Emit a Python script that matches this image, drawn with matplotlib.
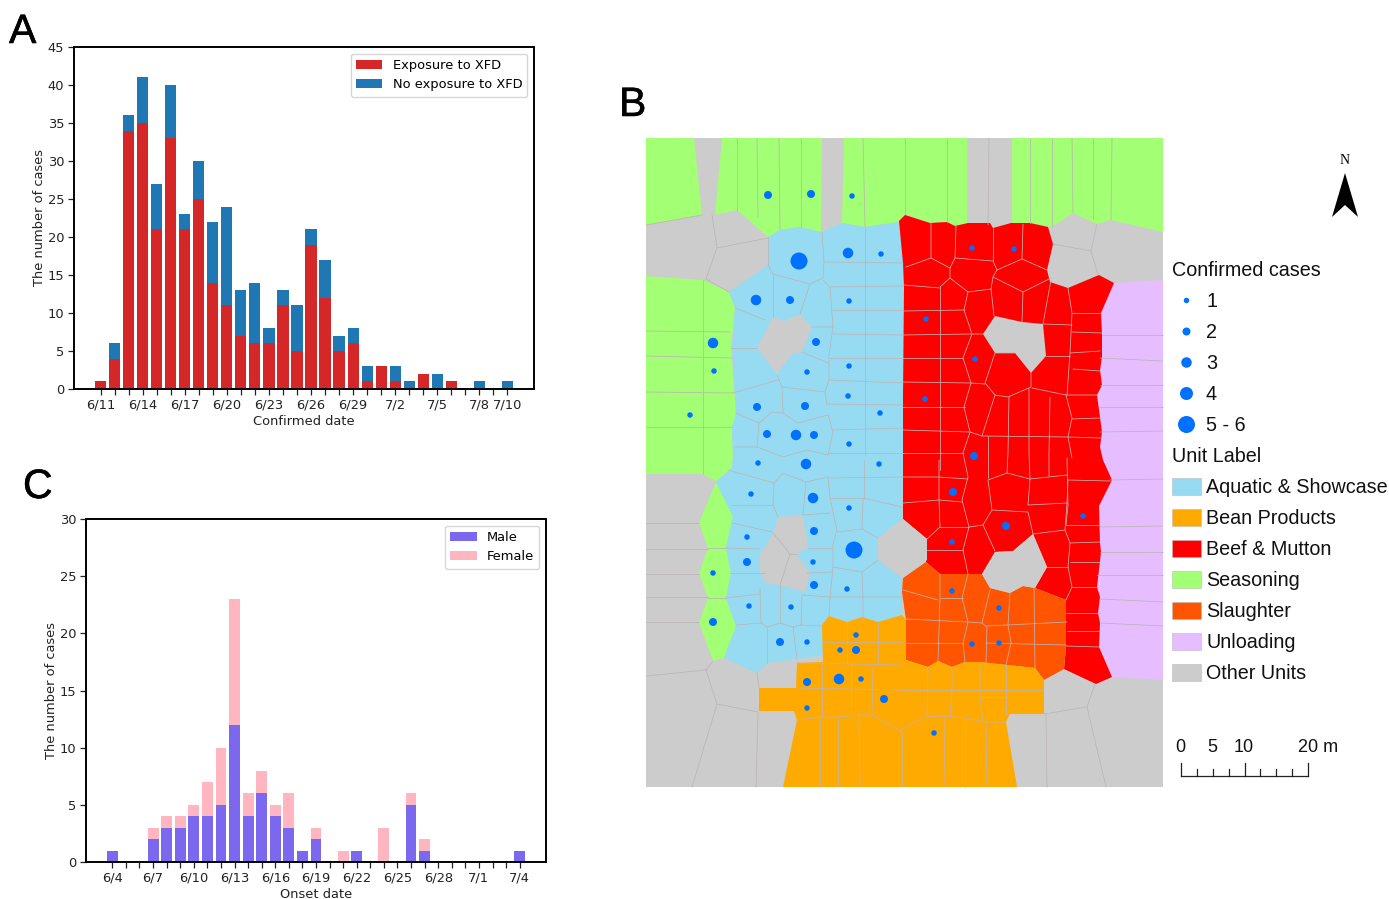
import matplotlib
matplotlib.use('Agg')
import matplotlib.pyplot as plt
import matplotlib.patheffects as pe
from matplotlib.patches import Polygon, Rectangle

W, H = 1389, 899

# panel A
dates_a = ['6/11','6/12','6/13','6/14','6/15','6/16','6/17','6/18','6/19','6/20','6/21','6/22','6/23','6/24','6/25',
           '6/26','6/27','6/28','6/29','6/30','7/1','7/2','7/3','7/4','7/5','7/6','7/7','7/8','7/9','7/10']
shown_a = ['6/11','6/14','6/17','6/20','6/23','6/26','6/29','7/2','7/5','7/8','7/10']
exposed = [1,4,34,35,21,33,21,25,14,11,7,6,6,11,5,19,12,5,6,1,3,1,0,2,0,1,0,0,0,0]
not_exposed = [0,2,2,6,6,7,2,5,8,13,6,8,2,2,6,2,5,2,2,2,0,2,1,0,2,0,0,1,0,1]

# panel C
dates_c = ['6/4','6/5','6/6','6/7','6/8','6/9','6/10','6/11','6/12','6/13','6/14','6/15','6/16','6/17','6/18','6/19',
           '6/20','6/21','6/22','6/23','6/24','6/25','6/26','6/27','6/28','6/29','6/30','7/1','7/2','7/3','7/4']
male = [1,0,0,2,3,3,4,4,5,12,4,6,4,3,1,2,0,0,1,0,0,0,5,1,0,0,0,0,0,0,1]
female = [0,0,0,1,1,1,1,3,5,11,2,2,1,3,0,1,0,1,0,0,3,0,1,1,0,0,0,0,0,0,0]

# panel B, traced in picture pixels
lilac = [(1114,283),(1163,280),(1163,680),(1112,677),(1090,640),(1090,300)]
green_parts = [
    [(646,138),(694,138),(702,215),(646,225)],
    [(722,138),(822,138),(821,232),(800,227),(780,230),(768,237),(737,210),(715,215)],
    [(844,138),(967,138),(967,223),(955,226),(947,222),(930,223),(905,214),(898,222),(865,227),(842,223)],
    [(1012,138),(1163,138),(1163,232),(1111,220),(1097,224),(1073,213),(1052,227),(1030,223),(1012,223)],
    [(646,276),(703,280),(729,292),(735,308),(731,347),(736,413),(732,427),(733,457),(732,468),(716,481),(702,474),(646,474)],
    [(716,482),(729,503),(733,517),(726,548),(731,573),(726,598),(736,626),(724,658),(713,661),(699,622),(708,598),
     (699,573),(708,548),(699,523)],
]
aquatic = [(768,237),(780,230),(800,227),(821,232),(842,223),(865,227),(898,222),(905,263),(904,287),(903,397),(903,460),
           (902,519),(878,538),(878,560),(902,578),(902,592),(902,615),(878,622),(862,617),(847,622),(829,616),(822,625),
           (824,655),(797,659),(768,663),(757,673),(724,658),(736,626),(726,598),(731,573),(726,548),(733,517),(716,482),
           (732,468),(733,457),(732,427),(736,413),(732,347),(735,308),(729,292),(768,265)]
beef = [(905,215),(930,223),(947,222),(955,226),(968,223),(990,223),(993,228),(1011,223),(1030,223),(1048,227),(1053,244),
        (1047,270),(1050,282),(1068,288),(1099,275),(1114,283),(1101,313),(1102,334),(1102,357),(1100,370),(1102,385),
        (1097,395),(1102,432),(1100,447),(1103,460),(1112,480),(1099,506),(1100,543),(1101,552),(1097,587),(1100,597),
        (1098,613),(1100,623),(1099,647),(1112,677),(1096,684),(1064,669),(1066,647),(1066,600),(1035,588),(1047,567),
        (1033,534),(1013,551),(995,552),(982,574),(968,574),(940,574),(926,562),(927,539),(903,519),(903,477),(903,397),
        (904,287),(903,263),(899,221)]
slaughter = [(926,562),(940,574),(982,574),(990,588),(1010,593),(1023,586),(1035,588),(1066,600),(1066,647),(1064,669),
             (1044,680),(1035,668),(1007,665),(980,662),(965,662),(952,667),(938,661),(928,667),(906,660),(906,620),
             (902,592),(903,578)]
bean = [(829,616),(847,622),(862,617),(878,622),(902,615),(906,620),(906,660),(928,667),(938,661),(952,667),(965,662),
        (980,662),(1007,665),(1035,668),(1044,680),(1044,714),(1010,714),(1006,722),(1017,787),(783,787),(797,720),
        (794,711),(759,711),(759,688),(796,688),(797,663),(823,662),(822,625)]
other_holes = [
    [(773,317),(784,321),(800,314),(812,327),(802,352),(792,354),(777,374),(757,348)],
    [(778,517),(803,515),(808,547),(797,554),(810,573),(805,592),(780,585),(771,584),(767,585),(760,572),(760,555),(773,533)],
    [(903,519),(927,539),(927,560),(903,578),(878,560),(878,538)],
    [(995,316),(1022,322),(1043,324),(1046,356),(1031,373),(1015,353),(995,353),(983,334)],
    [(1033,534),(1047,567),(1035,588),(1023,586),(1010,593),(990,588),(982,574),(995,552),(1013,551)],
]
cell_lines = [
    # top row
    [(737,138),(737,210)],[(757,138),(758,217)],[(779,138),(780,230)],[(801,138),(801,227)],[(863,138),(865,227)],
    [(905,138),(905,214)],[(947,138),(947,222)],[(989,138),(988,225)],[(1030,138),(1030,223)],[(1052,138),(1052,227)],
    [(1072,138),(1073,213)],[(1093,138),(1093,219)],[(1112,138),(1111,220)],
    # other units, corners
    [(712,215),(717,248),(768,238)],[(717,248),(706,279),(729,292)],[(646,225),(702,215)],[(768,237),(768,265)],
    [(1053,244),(1091,251)],[(1097,224),(1091,251),(1098,275)],
    [(646,676),(706,670),(713,661)],[(706,670),(717,704),(692,787)],[(717,704),(758,712),(756,787)],[(757,673),(759,688)],
    [(1044,714),(1087,707),(1095,684)],[(1087,707),(1106,787)],[(1046,715),(1047,787)],
    # seasoning and left side
    [(703,280),(703,474)],[(646,331),(730,332)],[(646,356),(732,358)],[(646,392),(733,393)],[(646,427),(732,427)],
    [(646,523),(699,523)],[(646,549),(708,549)],[(646,574),(699,574)],[(646,597),(708,597)],[(646,622),(699,622)],
    [(708,548),(726,548)],[(708,598),(726,598)],
    # aquatic
    [(822,232),(824,262),(823,278),(810,284),(773,274),(768,265)],[(773,274),(773,317)],[(810,284),(800,314)],
    [(823,280),(830,287),(833,327),(812,327)],[(824,262),(903,263)],[(865,227),(865,455)],[(830,287),(903,286)],
    [(833,310),(903,310)],[(833,327),(829,355),(829,380)],[(833,334),(903,335)],[(830,358),(903,358)],[(802,352),(828,363)],
    [(777,375),(782,387),(825,392)],[(829,380),(825,392),(827,405)],[(829,380),(903,383)],[(827,404),(903,405)],
    [(733,393),(778,380)],[(731,348),(757,348)],[(735,308),(765,320)],[(782,387),(783,413)],
    [(736,413),(759,423),(772,412),(783,413),(798,423),(828,415)],[(759,423),(757,447)],[(832,430),(903,428)],
    [(828,415),(833,432),(828,455)],[(828,453),(903,453)],[(735,447),(757,447),(783,457),(807,450),(828,455)],
    [(728,470),(774,483),(783,473),(806,482),(828,477)],[(774,483),(773,505),(778,517)],[(732,505),(773,505)],
    [(732,523),(772,532)],[(806,482),(803,515)],[(828,477),(830,498),(837,530),(832,548)],[(830,498),(863,498)],
    [(803,515),(830,513)],[(830,478),(903,477)],[(864,460),(864,498)],[(863,498),(902,507)],
    [(863,499),(862,529),(837,532)],[(862,529),(878,538)],[(832,548),(808,548)],[(833,548),(833,567),(862,572)],
    [(862,572),(878,560)],[(833,567),(830,597)],[(807,573),(832,572)],[(862,572),(863,598),(863,622)],
    [(802,595),(830,597),(902,597)],[(830,597),(829,616)],[(802,595),(801,625)],[(780,585),(780,623)],[(760,588),(761,623)],
    [(736,625),(761,623),(767,627),(780,623),(793,627),(801,625),(822,626)],[(767,627),(767,663)],[(793,627),(797,659)],
    [(730,573),(765,573)],[(726,598),(760,594)],[(726,548),(760,549)],[(773,533),(790,554),(780,585)],[(790,554),(797,554)],
    # bean
    [(822,642),(902,642)],[(847,622),(847,663)],[(878,622),(878,663)],[(797,663),(902,665)],[(822,663),(822,717)],
    [(851,665),(851,713)],[(873,668),(872,715)],[(797,688),(902,690)],
    [(797,720),(822,717),(840,717),(860,715),(872,715),(902,732)],[(820,718),(820,787)],[(838,717),(838,787)],
    [(859,715),(860,787)],[(902,732),(902,787)],[(900,730),(925,717),(945,716),(965,718),(985,722),(1006,722)],
    [(945,716),(944,787)],[(965,718),(965,787)],[(986,722),(987,787)],[(900,690),(1043,690)],[(928,667),(927,716)],
    [(952,667),(952,692),(950,716)],[(980,665),(980,697),(983,722)],[(1006,665),(1006,715)],[(980,697),(1006,697)],
    # slaughter
    [(903,590),(938,600)],[(940,574),(940,598),(938,661)],[(968,574),(962,598),(968,622),(963,643),(965,662)],
    [(940,598),(963,598)],[(990,590),(982,623),(987,627),(986,662)],[(1010,593),(1008,625),(1011,643),(1006,665)],
    [(1034,588),(1035,668)],[(906,619),(968,622),(982,623)],[(987,626),(1067,622)],[(906,643),(963,643)],[(986,643),(1066,645)],
    # beef
    [(931,223),(931,258),(906,267)],[(931,258),(950,268)],[(956,226),(955,258),(950,268),(950,278),(940,287)],
    [(955,258),(993,261),(997,270),(993,277),(991,289),(968,292)],[(993,228),(993,261)],[(1023,224),(1022,259),(997,270)],
    [(1022,259),(1047,270)],[(950,278),(968,292),(964,310),(972,334),(983,334)],[(993,277),(1023,292),(1051,278)],
    [(1023,292),(1022,322)],[(991,289),(994,316)],[(1051,280),(1043,324)],[(1068,288),(1072,313),(1070,353),(1067,395)],
    [(1043,324),(1072,325)],[(1072,313),(1101,313)],[(1072,332),(1102,333)],[(1070,353),(1100,351)],[(1046,356),(1070,356)],
    [(1073,369),(1100,371)],[(1031,373),(1031,387),(1008,397),(995,395)],[(1015,353),(995,353),(985,383),(995,395)],
    [(972,334),(963,358),(971,383),(985,384)],[(940,287),(940,470)],[(904,285),(940,288)],[(903,311),(965,310)],
    [(903,335),(971,334)],[(903,358),(963,358)],[(903,382),(971,383)],[(903,407),(965,407)],[(903,430),(970,432)],
    [(903,453),(963,453)],[(971,383),(964,407),(970,432),(963,453)],[(995,395),(982,436)],[(982,436),(1068,437)],
    [(970,432),(982,436)],[(1009,397),(1008,453),(1007,473)],[(1029,388),(1029,453),(1030,479)],
    [(1050,397),(1049,453),(1049,476)],[(1032,388),(1066,395),(1097,395)],
    [(1066,395),(1072,418),(1068,437),(1072,458)],[(1072,419),(1100,418)],[(1068,437),(1102,438)],
    [(903,477),(939,477),(968,479)],[(939,460),(939,500),(940,527)],[(963,453),(968,477),(962,500),(969,527),(963,550),(968,574)],
    [(903,503),(939,500),(962,502)],[(940,527),(927,539)],[(940,527),(969,527)],
    [(969,527),(983,525),(992,510),(988,480),(1007,473),(1030,479),(1028,505)],[(988,436),(988,478)],
    [(992,510),(1028,512),(1033,534)],[(983,525),(995,551)],[(1030,479),(1067,475)],[(1028,505),(1067,503),(1068,480)],
    [(1067,503),(1065,530),(1033,534)],[(1065,530),(1070,543),(1068,567),(1072,587)],[(1070,543),(1100,542)],
    [(1070,562),(1100,562)],[(1047,567),(1068,567)],[(1072,587),(1066,600)],[(1072,587),(1098,587)],[(1066,613),(1100,613)],
    [(1067,631),(1100,631)],[(1066,646),(1099,647)],[(1068,480),(1110,481)],[(1066,525),(1100,525)],[(1068,506),(1066,525)],
    [(927,550),(963,550)],[(1067,458),(1068,506)],
    # unloading
    [(1102,335),(1163,335)],[(1100,358),(1163,361)],[(1100,385),(1163,385)],[(1099,407),(1163,407)],[(1100,432),(1163,431)],
    [(1110,480),(1163,479)],[(1100,527),(1163,526)],[(1100,552),(1163,552)],[(1097,575),(1163,575)],[(1100,599),(1163,602)],
    [(1100,623),(1163,626)],
]
case_x = [768,811,852,799,848,881,756,790,849,713,714,816,807,849,848,690,757,805,880,767,796,814,849,758,806,879,751,813,
          849,814,747,854,747,813,713,814,847,749,791,713,780,807,856,840,856,807,839,861,884,807,934,953,1006,952,1083,952,
          999,972,999,972,1014,926,975,925,974]
case_y = [195,194,196,261,253,254,300,300,301,343,371,342,372,366,396,415,407,406,413,434,435,435,444,463,464,464,494,498,
          508,531,537,550,562,562,573,585,589,606,607,622,642,642,635,650,650,682,679,679,699,708,733,492,526,542,516,591,
          608,644,643,248,249,319,359,399,456]
case_n = [2,2,1,5,3,1,3,2,1,3,1,2,1,1,1,1,2,2,1,2,3,2,1,1,3,1,1,3,
          1,2,1,5,2,1,1,2,1,1,1,2,2,1,1,1,2,2,3,1,2,1,1,2,2,1,1,1,
          1,1,1,1,1,1,1,1,2]
dot_px = {1:5.5, 2:8, 3:10.5, 4:13, 5:17}
legend_cases = ['1','2','3','4','5 - 6']
legend_n = [1,2,3,4,5]
unit_names = ['Aquatic & Showcase','Bean Products','Beef & Mutton','Seasoning','Slaughter','Unloading','Other Units']
unit_colors = ['#97DBF2','#FFAA00','#FF0000','#A3FF73','#FF5500','#E6BEFF','#CCCCCC']
scale_labels = ['0','5','10','20 m']
line_col = '#BDB4B4'
dot_col = '#0070FF'

fig = plt.figure(figsize=(W/100, H/100), dpi=100)

def px_axes(x0, y0, x1, y1):
    return fig.add_axes([x0/W, 1-y1/H, (x1-x0)/W, (y1-y0)/H])

def style_chart(ax, ylab, xlab):
    for s in ax.spines.values():
        s.set_linewidth(1.4)
    ax.tick_params(labelsize=9.4, length=4.5, width=0.9, pad=2.5, colors='#222222')
    ax.set_ylabel(ylab, fontsize=9.4, labelpad=1, color='#222222')
    ax.set_xlabel(xlab, fontsize=9.4, labelpad=2.5, color='#222222')

# map canvas
bg = fig.add_axes([0, 0, 1, 1])
bg.set_xlim(0, W)
bg.set_ylim(H, 0)
bg.axis('off')
bg.add_patch(Rectangle((646,138), 517, 649, fc='#CCCCCC', ec='none', zorder=1))
bg.add_patch(Polygon(lilac, fc='#E6BEFF', ec='none', zorder=2))
for g in green_parts:
    bg.add_patch(Polygon(g, fc='#A3FF73', ec='none', zorder=2))
bg.add_patch(Polygon(aquatic, fc='#97DBF2', ec='none', zorder=3))
bg.add_patch(Polygon(beef, fc='#FF0000', ec='none', zorder=3))
bg.add_patch(Polygon(slaughter, fc='#FF5500', ec='none', zorder=4))
bg.add_patch(Polygon(bean, fc='#FFAA00', ec='none', zorder=4))
for o in other_holes:
    bg.add_patch(Polygon(o, fc='#CCCCCC', ec='none', zorder=5))
for c in cell_lines:
    bg.plot([p[0] for p in c], [p[1] for p in c], color=line_col, lw=0.55, zorder=6, solid_capstyle='round')
bg.scatter(case_x, case_y, s=[(dot_px[n]*0.72)**2 for n in case_n], c=dot_col, linewidths=0, zorder=7)

# map legend
font = 'Liberation Sans'
bg.text(1172, 276, 'Confirmed cases', fontsize=14.2, family=font, color='#111111')
y = 300
for lab, n in zip(legend_cases, legend_n):
    bg.scatter([1186], [y], s=(dot_px[n]*0.72)**2, c=dot_col, linewidths=0)
    bg.text(1206, y+7, lab, fontsize=14.2, family=font, color='#111111')
    y += 31
bg.text(1172, 462, 'Unit Label', fontsize=14.2, family=font, color='#111111')
y = 486
for lab, col in zip(unit_names, unit_colors):
    bg.add_patch(Rectangle((1172, y-8.5), 29, 17, fc=col, ec='#BBBBBB', lw=0.4))
    bg.text(1206, y+7, lab, fontsize=14.2, family=font, color='#111111')
    y += 31

# north arrow
bg.text(1345, 160, 'N', fontsize=10, family='Liberation Serif', ha='center', va='center')
bg.add_patch(Polygon([(1345,173),(1358,217),(1345,205),(1332,217)], fc='black', ec='none'))

# scale bar
bg.plot([1181,1308], [776,776], color='#222222', lw=0.9)
for i in range(9):
    xt = 1181 + i*127/8
    bg.plot([xt,xt], [776, 763 if i % 4 == 0 else 769], color='#222222', lw=0.9)
for lab, xt, ha in zip(scale_labels, [1180,1212,1244,1298], ['center','center','center','left']):
    bg.text(xt, 752, lab, fontsize=13, family=font, ha=ha, color='#111111')

# panel letters
for lab, xt, yt in zip('ABC', [9,619,23], [43,116,498]):
    bg.text(xt, yt, lab, fontsize=29.5, family=font, color='black',
            path_effects=[pe.withStroke(linewidth=0.4, foreground='black')])

# panel A
ax = px_axes(74, 47, 534, 389)
xa = list(range(len(dates_a)))
ax.bar(xa, exposed, color='#D62728', label='Exposure to XFD')
ax.bar(xa, not_exposed, bottom=exposed, color='#1F77B4', label='No exposure to XFD')
ax.set_xticks(xa)
ax.set_xticklabels([d if d in shown_a else '' for d in dates_a])
ax.set_ylim(0, 45)
ax.set_yticks(range(0, 46, 5))
style_chart(ax, 'The number of cases', 'Confirmed date')
ax.legend(loc='upper right', fontsize=9.4)

# panel C
ax2 = px_axes(86, 519, 546, 862)
xc = list(range(len(dates_c)))
ax2.bar(xc, male, color='#7B68EE', label='Male')
ax2.bar(xc, female, bottom=male, color='#FFB6C1', label='Female')
ax2.set_xticks(xc)
ax2.set_xticklabels([d if i % 3 == 0 else '' for i, d in enumerate(dates_c)])
ax2.set_ylim(0, 30)
ax2.set_yticks(range(0, 31, 5))
style_chart(ax2, 'The number of cases', 'Onset date')
ax2.legend(loc='upper right', fontsize=9.4)

fig.savefig('out.png', dpi=100)
